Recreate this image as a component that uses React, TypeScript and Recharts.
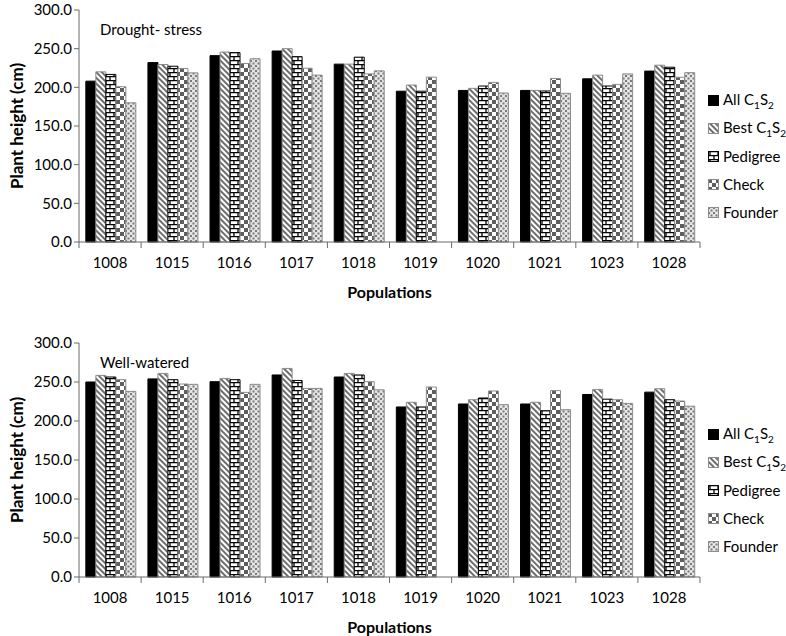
import { Bar, BarChart, XAxis, YAxis } from "recharts";

const populations = ["1008", "1015", "1016", "1017", "1018", "1019", "1020", "1021", "1023", "1028"];
const yTicks = [0, 50, 100, 150, 200, 250, 300];

// drought-stress panel
const droughtAll = [208, 232, 241, 247, 230, 195, 196, 196, 211, 221];
const droughtBest = [220, 229.5, 245.6, 250, 230, 203, 198.7, 196, 215.8, 228.6];
const droughtPedigree = [216.7, 227.3, 244.9, 239.7, 239, 195, 201.7, 195.3, 201.7, 226];
const droughtCheck = [200.8, 224.4, 230.8, 224.7, 217.4, 213.2, 206.4, 211.5, 203.8, 213];
const droughtFounder = [180, 218.7, 237, 215.8, 221.3, null, 192.7, 192.3, 217.4, 219];

// well-watered panel
const wateredAll = [250, 254, 250.4, 259, 256.4, 218, 221.8, 221.8, 234, 237];
const wateredBest = [258.5, 261, 254.6, 267.4, 261, 224, 227.3, 224, 240.5, 241.4];
const wateredPedigree = [256.4, 253, 253, 252, 259, 218, 229.5, 213.2, 228, 227.3];
const wateredCheck = [253, 247.4, 236.7, 241.8, 250.4, 243.6, 238.5, 239, 227.3, 225.6];
const wateredFounder = [238, 247, 247, 241.8, 240, null, 221, 214.5, 222.6, 219];

const FONT = "Lato, 'Liberation Sans', sans-serif";
const AXIS = "#6b6b6b";
const W = 786;
const H = 318;
const LEFT = 79;
const RIGHT = 86;
const BAND = (W - LEFT - RIGHT) / populations.length;

const series = [
  { key: "all", name: "All", sub: true, fill: "#000", stroke: "#000" },
  { key: "best", name: "Best", sub: true, fill: "url(#pat-best)", stroke: "#8c8c8c" },
  { key: "pedigree", name: "Pedigree", sub: false, fill: "url(#pat-pedigree)", stroke: "#000" },
  { key: "check", name: "Check", sub: false, fill: "url(#pat-check)", stroke: "#8c8c8c" },
  { key: "founder", name: "Founder", sub: false, fill: "url(#pat-founder)", stroke: "#8c8c8c" },
];

function buildRows(vals: (number | null)[][]) {
  return populations.map((p, i) => ({
    pop: p,
    all: vals[0][i],
    best: vals[1][i],
    pedigree: vals[2][i],
    check: vals[3][i],
    founder: vals[4][i],
  }));
}

const droughtData = buildRows([droughtAll, droughtBest, droughtPedigree, droughtCheck, droughtFounder]);
const wateredData = buildRows([wateredAll, wateredBest, wateredPedigree, wateredCheck, wateredFounder]);

function Patterns() {
  return (
    <svg width={0} height={0} style={{ position: "absolute" }}>
      <defs>
        <pattern id="pat-best" width={4} height={4} patternUnits="userSpaceOnUse" patternTransform="rotate(-45)">
          <rect width={4} height={4} fill="#fff" />
          <rect width={2} height={4} fill="#6e6e6e" />
        </pattern>
        <pattern id="pat-pedigree" width={8} height={8} patternUnits="userSpaceOnUse">
          <rect width={8} height={8} fill="#fff" />
          <line x1={0} x2={8} y1={0.6} y2={0.6} stroke="#000" strokeWidth={1.3} />
          <line x1={0} x2={8} y1={4.6} y2={4.6} stroke="#000" strokeWidth={1.3} />
          <line x1={2} x2={2} y1={0} y2={4.6} stroke="#000" strokeWidth={1.3} />
          <line x1={6} x2={6} y1={4.6} y2={8} stroke="#000" strokeWidth={1.3} />
        </pattern>
        <pattern id="pat-check" width={8} height={8} patternUnits="userSpaceOnUse">
          <rect width={8} height={8} fill="#fff" />
          <rect width={4} height={4} fill="#5e5e5e" />
          <rect x={4} y={4} width={4} height={4} fill="#5e5e5e" />
        </pattern>
        <pattern id="pat-founder" width={5} height={5} patternUnits="userSpaceOnUse">
          <rect width={5} height={5} fill="#e4e4e4" />
          <rect width={2} height={2} fill="#7a7a7a" />
          <rect x={2.5} y={2.5} width={2} height={2} fill="#7a7a7a" />
        </pattern>
      </defs>
    </svg>
  );
}

function XTick(props: any) {
  const { x, y, payload, index } = props;
  const last = index === populations.length - 1;
  return (
    <g>
      <line x1={x - BAND / 2} x2={x - BAND / 2} y1={y} y2={y + 6} stroke={AXIS} />
      {last && <line x1={x + BAND / 2} x2={x + BAND / 2} y1={y} y2={y + 6} stroke={AXIS} />}
      <text x={x} y={y + 20} textAnchor="middle" dominantBaseline="central" fontSize={15} fontFamily={FONT} fill="#000">
        {payload.value}
      </text>
    </g>
  );
}

function LegendBox({ top }: { top: number }) {
  return (
    <div style={{ position: "absolute", left: 708, top, fontFamily: FONT, fontSize: 15, color: "#000" }}>
      {series.map((s) => (
        <div key={s.key} style={{ display: "flex", alignItems: "center", height: 28 }}>
          <svg width={11} height={11} style={{ marginRight: 4 }}>
            <rect x={0.5} y={0.5} width={10} height={10} fill={s.fill} stroke={s.stroke} />
          </svg>
          <span style={{ whiteSpace: "nowrap" }}>
            {s.name}
            {s.sub && (
              <>
                {" "}C<sub style={{ fontSize: 10 }}>1</sub>S<sub style={{ fontSize: 10 }}>2</sub>
              </>
            )}
          </span>
        </div>
      ))}
    </div>
  );
}

function Panel({ data, title, marginTop, xHeight }: { data: any[]; title: string; marginTop: number; xHeight: number }) {
  return (
    <BarChart
      width={W}
      height={H}
      data={data}
      margin={{ top: marginTop, right: RIGHT, bottom: 0, left: 0 }}
      barCategoryGap="11%"
      barGap={0}
    >
      <XAxis
        dataKey="pop"
        height={xHeight}
        stroke={AXIS}
        tickLine={false}
        tickSize={0}
        tickMargin={0}
        tick={(p: any) => <XTick {...p} />}
        interval={0}
        label={(p: any) => {
          const vb = p.viewBox;
          return (
            <text x={vb.x + vb.width / 2} y={vb.y + 49} textAnchor="middle" dominantBaseline="central" fontSize={16} fontWeight="bold" fontFamily={FONT} fill="#000">
              Populations
            </text>
          );
        }}
      />
      <YAxis
        width={LEFT}
        domain={[0, 300]}
        ticks={yTicks}
        interval={0}
        stroke={AXIS}
        tickSize={5}
        tickMargin={2}
        tickFormatter={(v: number) => v.toFixed(1)}
        tick={{ fill: "#000", fontSize: 15, fontFamily: FONT }}
        label={(p: any) => {
          const vb = p.viewBox;
          const cy = vb.y + vb.height / 2;
          return (
            <text x={16} y={cy} transform={`rotate(-90, 16, ${cy})`} textAnchor="middle" dominantBaseline="central" fontSize={17} fontWeight="bold" fontFamily={FONT} fill="#000">
              Plant height (cm)
            </text>
          );
        }}
      />
      {series.map((s) => (
        <Bar key={s.key} dataKey={s.key} name={s.name} fill={s.fill} stroke={s.stroke} strokeWidth={1} isAnimationActive={false} />
      ))}
      <text x={100} y={marginTop + 25} fontSize={15} fontFamily={FONT} fill="#000">
        {title}
      </text>
    </BarChart>
  );
}

export default function App() {
  return (
    <div style={{ position: "absolute", left: 0, top: 0, width: W, height: 636, background: "#fff" }}>
      <Patterns />
      <div style={{ position: "absolute", left: 0, top: 0 }}>
        <Panel data={droughtData} title="Drought- stress" marginTop={10} xHeight={76} />
      </div>
      <div style={{ position: "absolute", left: 0, top: 318 }}>
        <Panel data={wateredData} title="Well-watered" marginTop={25} xHeight={59} />
      </div>
      <LegendBox top={86} />
      <LegendBox top={420} />
    </div>
  );
}
